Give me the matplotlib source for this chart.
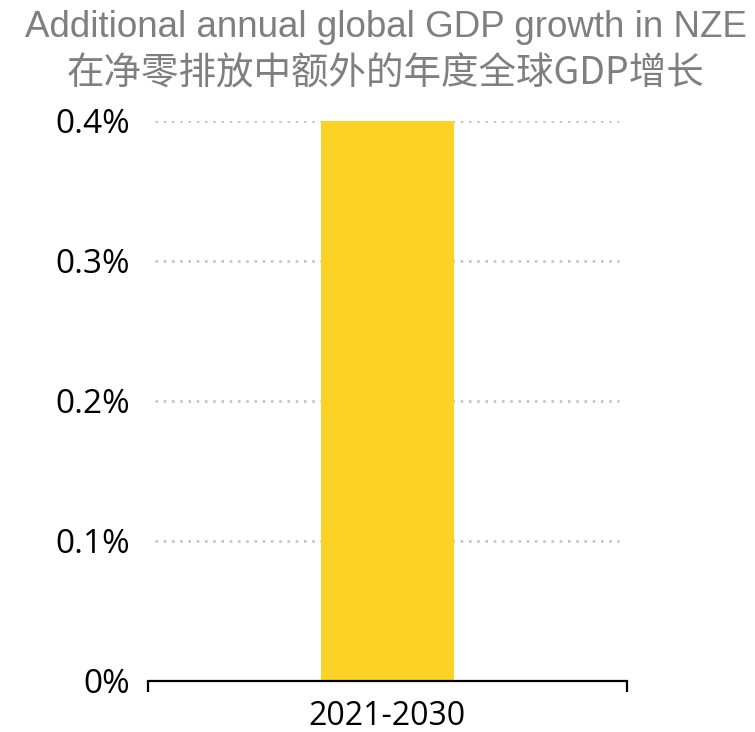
import matplotlib
matplotlib.use("Agg")
import matplotlib.pyplot as plt

# chart data
periods = ["2021-2030"]
gdp_growth = [0.4]  # additional annual global GDP growth, %
y_ticks = [0, 0.1, 0.2, 0.3, 0.4]
y_tick_labels = ["0%", "0.1%", "0.2%", "0.3%", "0.4%"]
title_en = "Additional annual global GDP growth in NZE"
title_zh = "在净零排放中额外的年度全球GDP增长"

bar_color = "#FCD226"
grey = "#7F7F7F"

fig = plt.figure(figsize=(7.55, 7.32), dpi=100)
ax = fig.add_axes([0.196, 0.0697, 0.634, 0.765])

x = list(range(len(periods)))
ax.bar(x, gdp_growth, width=1.0, color=bar_color, zorder=2)

ax.set_xlim(-1.8, 1.8)
ax.set_ylim(0, 0.4)

# dotted gridlines, a bit shorter than the axis line
for yv in y_ticks[1:]:
    ax.axhline(yv, xmin=0.015, xmax=0.985, color="#BFBFBF", linestyle=(0, (1, 2.3)),
               linewidth=1.8, zorder=1)

ax.set_yticks(y_ticks)
ax.set_yticklabels(y_tick_labels, fontsize=24, fontfamily="Open Sans")
ax.tick_params(axis="y", length=0, pad=13)

ax.set_xticks(x)
ax.set_xticklabels(periods, fontsize=23, fontfamily="Open Sans")
ax.tick_params(axis="x", which="major", length=0, pad=14)
ax.set_xticks([-1.8, 1.8], minor=True)
ax.tick_params(axis="x", which="minor", length=8, width=1.6, direction="out", color="black")

for side in ["top", "right", "left"]:
    ax.spines[side].set_visible(False)
ax.spines["bottom"].set_linewidth(1.6)
ax.spines["bottom"].set_color("black")

fig.text(0.511, 0.963, title_en, ha="center", va="center", fontsize=26.5,
         color=grey, family=["Liberation Sans", "DejaVu Sans"])
fig.text(0.511, 0.899, title_zh, ha="center", va="center", fontsize=27,
         color=grey, family=["Noto Sans CJK SC", "DejaVu Sans"])

fig.savefig("out.png", dpi=100)
